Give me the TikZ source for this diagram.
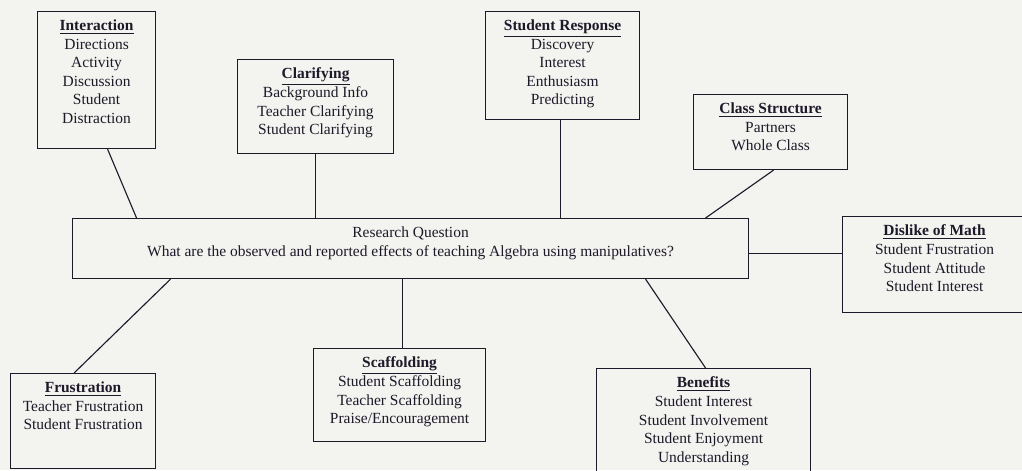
\documentclass[tikz,border=0pt]{standalone}
\usepackage{fontspec}
\setmainfont{Liberation Serif}
\usepackage{tikz}
\usetikzlibrary{positioning}

\newlength{\px}
\setlength{\px}{0.025cm}
\definecolor{paper}{RGB}{243,243,240}
\definecolor{ink}{RGB}{30,25,40}

% box contents: width, height, text (top aligned)
\newcommand{\cardtext}[3]{\parbox[c][#2][t]{#1}{\centering\vspace*{6pt}#3}}
\newcommand{\head}[1]{\underline{\textbf{#1}}}

\tikzset{
  card/.style={draw=ink, line width=0.8pt, anchor=north west, inner sep=0pt,
    font=\fontsize{11}{13.2}\selectfont, text=ink},
  link/.style={draw=ink, line width=0.8pt},
}

\begin{document}
\begin{tikzpicture}[x=\px, y=-\px]
  \fill[paper] (0,0) rectangle (1022,470);
  \useasboundingbox (0,0) rectangle (1022,470);
  \clip (0,0) rectangle (1022,470);

  % centre box
  \node[card] (rq) at (72,218)
    {\cardtext{676\px}{60\px}{Research Question\\What are the observed and reported effects of teaching Algebra using manipulatives?}};

  % upper boxes
  \node[card] (inter) at (37,11)
    {\cardtext{118\px}{137\px}{\head{Interaction}\\Directions\\Activity\\Discussion\\Student\\Distraction}};
  \node[card] (clar) at (237,59)
    {\cardtext{156\px}{94\px}{\head{Clarifying}\\Background Info\\Teacher Clarifying\\Student Clarifying}};
  \node[card] (resp) at (485,11)
    {\cardtext{154\px}{108\px}{\head{Student Response}\\Discovery\\Interest\\Enthusiasm\\Predicting}};
  \node[card] (struct) at (693,94)
    {\cardtext{154\px}{75\px}{\head{Class Structure}\\Partners\\Whole Class}};

  % right box
  \node[card] (dislike) at (842,216)
    {\cardtext{184\px}{96\px}{\head{Dislike of Math}\\Student Frustration\\Student Attitude\\Student Interest}};

  % lower boxes
  \node[card] (frust) at (10,373)
    {\cardtext{145\px}{95\px}{\head{Frustration}\\Teacher Frustration\\Student Frustration}};
  \node[card] (scaf) at (313,348)
    {\cardtext{172\px}{93\px}{\head{Scaffolding}\\Student Scaffolding\\Teacher Scaffolding\\Praise/Encouragement}};
  \node[card] (benef) at (596,368)
    {\cardtext{214\px}{110\px}{\head{Benefits}\\Student Interest\\Student Involvement\\Student Enjoyment\\Understanding}};

  % connectors
  \draw[link] ([xshift=11\px]inter.south) -- ([xshift=-274\px]rq.north);
  \draw[link] (clar.south) -- (clar.south |- rq.north);
  \draw[link] ([xshift=-2\px]resp.south) -- ([xshift=-2\px]resp.south |- rq.north);
  \draw[link] ([xshift=3\px]struct.south) -- ([xshift=295\px]rq.north);
  \draw[link] ([yshift=-5\px]rq.east) -- ([yshift=-5\px]rq.east -| dislike.west);
  \draw[link] ([xshift=-240\px]rq.south) -- ([xshift=-9\px]frust.north);
  \draw[link] ([xshift=-8\px]rq.south) -- ([xshift=3\px]scaf.north);
  \draw[link] ([xshift=235\px]rq.south) -- ([xshift=2\px]benef.north);
\end{tikzpicture}
\end{document}
